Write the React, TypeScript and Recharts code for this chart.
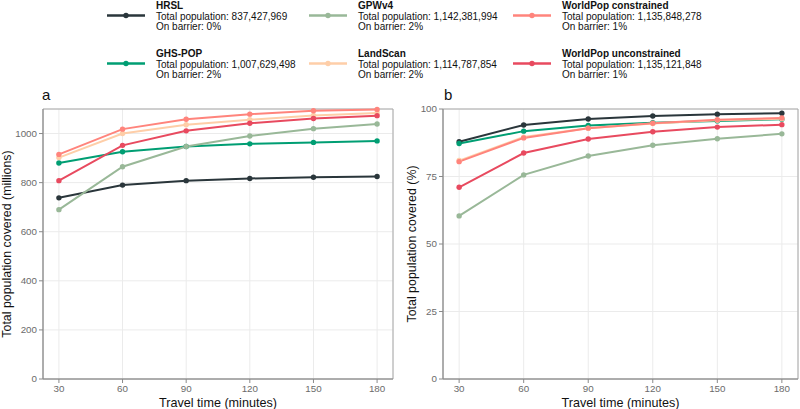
import React from 'react';
import { LineChart, Line, XAxis, YAxis, CartesianGrid, ReferenceArea } from 'recharts';

const minutes = [30, 60, 90, 120, 150, 180];

const seriesNames = ['HRSL', 'GHS-POP', 'GPWv4', 'LandScan', 'WorldPop constrained', 'WorldPop unconstrained'];
const seriesColors = ['#2A363B', '#009E73', '#99B898', '#FECEA8', '#FF847C', '#E84A5F'];
const totalLabels = ['837,427,969', '1,007,629,498', '1,142,381,994', '1,114,787,854', '1,135,848,278', '1,135,121,848'];
const barrierLabels = ['0%', '2%', '2%', '2%', '1%', '1%'];

// Panel a: total population covered (millions)
const hrslMillions = [738, 790, 808, 817, 822, 825];
const ghsMillions = [880, 926, 947, 958, 964, 970];
const gpwMillions = [690, 865, 947, 990, 1020, 1039];
const landscanMillions = [902, 1000, 1036, 1056, 1074, 1084];
const wpcMillions = [915, 1018, 1058, 1079, 1093, 1098];
const wpuMillions = [808, 952, 1011, 1042, 1061, 1073];

// Panel b: total population covered (%)
const hrslPercent = [87.9, 94.1, 96.3, 97.4, 98.1, 98.4];
const ghsPercent = [87.2, 91.8, 93.9, 94.9, 95.6, 96.2];
const gpwPercent = [60.4, 75.6, 82.6, 86.6, 89.0, 90.8];
const landscanPercent = [80.9, 89.6, 92.9, 94.6, 95.8, 96.4];
const wpcPercent = [80.5, 89.3, 92.9, 94.7, 96.0, 96.7];
const wpuPercent = [71.0, 83.7, 88.9, 91.6, 93.3, 94.2];

const yTicksA = [0, 200, 400, 600, 800, 1000];
const yTicksB = [0, 25, 50, 75, 100];

const millionsSeries = [hrslMillions, ghsMillions, gpwMillions, landscanMillions, wpcMillions, wpuMillions];
const percentSeries = [hrslPercent, ghsPercent, gpwPercent, landscanPercent, wpcPercent, wpuPercent];

const buildRows = (series: number[][]) =>
  minutes.map((t, i) => {
    const row: Record<string, number> = { t };
    seriesNames.forEach((name, s) => {
      row[name] = series[s][i];
    });
    return row;
  });

const dataA = buildRows(millionsSeries);
const dataB = buildRows(percentSeries);

const FONT = '"Liberation Sans", Arial, Helvetica, sans-serif';
const tickStyle = { fontSize: 9.8, fill: '#6b6b6b', fontFamily: FONT };

const YLabel = (text: string, xPos: number) => (props: any) => {
  const vb = props.viewBox || {};
  const cy = (vb.y ?? 0) + (vb.height ?? 0) / 2;
  return (
    <text
      x={xPos}
      y={cy}
      transform={`rotate(-90, ${xPos}, ${cy})`}
      textAnchor="middle"
      fontSize={12.4}
      fontFamily={FONT}
      fill="#111"
    >
      {text}
    </text>
  );
};

const XLabel = (props: any) => {
  const vb = props.viewBox || {};
  const cx = (vb.x ?? 0) + (vb.width ?? 0) / 2;
  return (
    <text x={cx} y={407} textAnchor="middle" fontSize={12.6} fontFamily={FONT} fill="#111">
      Travel time (minutes)
    </text>
  );
};

const Panel = ({
  data,
  yDomain,
  yTicks,
  yLabel,
  yLabelX,
  marginRight,
}: {
  data: any[];
  yDomain: [number, number];
  yTicks: number[];
  yLabel: string;
  yLabelX: number;
  marginRight: number;
}) => (
  <LineChart width={400} height={409} data={data} margin={{ top: 109, right: marginRight, bottom: 0, left: 0 }}>
    <CartesianGrid stroke="#ebebeb" strokeWidth={1} />
    <ReferenceArea x1={22.5} x2={187.5} y1={yDomain[0]} y2={yDomain[1]} fill="none" stroke="#a8a8a8" strokeWidth={1} />
    <XAxis
      dataKey="t"
      type="number"
      domain={[22.5, 187.5]}
      ticks={minutes}
      height={30}
      tick={tickStyle}
      tickSize={4}
      tickMargin={2}
      stroke="#8a8a8a"
      axisLine={{ stroke: '#8a8a8a' }}
      tickLine={{ stroke: '#8a8a8a' }}
      label={{ content: XLabel }}
    />
    <YAxis
      type="number"
      domain={yDomain}
      ticks={yTicks}
      width={43}
      tick={tickStyle}
      tickSize={4}
      tickMargin={2}
      axisLine={{ stroke: '#8a8a8a' }}
      tickLine={{ stroke: '#8a8a8a' }}
      label={{ content: YLabel(yLabel, yLabelX) }}
    />
    {seriesNames.map((name, s) => (
      <Line
        key={name}
        type="linear"
        dataKey={name}
        stroke={seriesColors[s]}
        strokeWidth={2}
        dot={{ r: 2.7, fill: seriesColors[s], stroke: 'none' }}
        activeDot={false}
        isAnimationActive={false}
      />
    ))}
  </LineChart>
);

const legendColX = [107, 309, 513];
const legendRowY = [15.5, 63.5];

const LegendBlock = () => (
  <svg width={800} height={86} style={{ position: 'absolute', left: 0, top: 0 }}>
    {seriesNames.map((name, s) => {
      const col = Math.floor(s / 2);
      const row = s % 2;
      const x = legendColX[col];
      const y = legendRowY[row];
      const tx = x + 49;
      return (
        <g key={name} fontFamily={FONT} fontSize={10} fill="#111">
          <line x1={x} x2={x + 38} y1={y} y2={y} stroke={seriesColors[s]} strokeWidth={2.6} />
          <circle cx={x + 19} cy={y} r={2.7} fill={seriesColors[s]} />
          <text x={tx} y={y - 6.6} fontWeight="bold">
            {name}
          </text>
          <text x={tx} y={y + 4}>{`Total population: ${totalLabels[s]}`}</text>
          <text x={tx} y={y + 14.6}>{`On barrier: ${barrierLabels[s]}`}</text>
        </g>
      );
    })}
  </svg>
);

export default function App() {
  return (
    <div style={{ position: 'absolute', left: 0, top: 0, width: 800, height: 409, background: '#fff', fontFamily: FONT }}>
      <LegendBlock />
      <div style={{ position: 'absolute', left: 0, top: 0 }}>
        <Panel
          data={dataA}
          yDomain={[0, 1100]}
          yTicks={yTicksA}
          yLabel="Total population covered (millions)"
          yLabelX={11}
          marginRight={7}
        />
      </div>
      <div style={{ position: 'absolute', left: 400, top: 0 }}>
        <Panel
          data={dataB}
          yDomain={[0, 100]}
          yTicks={yTicksB}
          yLabel="Total population covered (%)"
          yLabelX={16}
          marginRight={2}
        />
      </div>
      <svg width={800} height={110} style={{ position: 'absolute', left: 0, top: 0, pointerEvents: 'none' }}>
        <text x={42} y={100} fontSize={15} fontFamily={FONT} fill="#111">a</text>
        <text x={444} y={100} fontSize={15} fontFamily={FONT} fill="#111">b</text>
      </svg>
    </div>
  );
}
